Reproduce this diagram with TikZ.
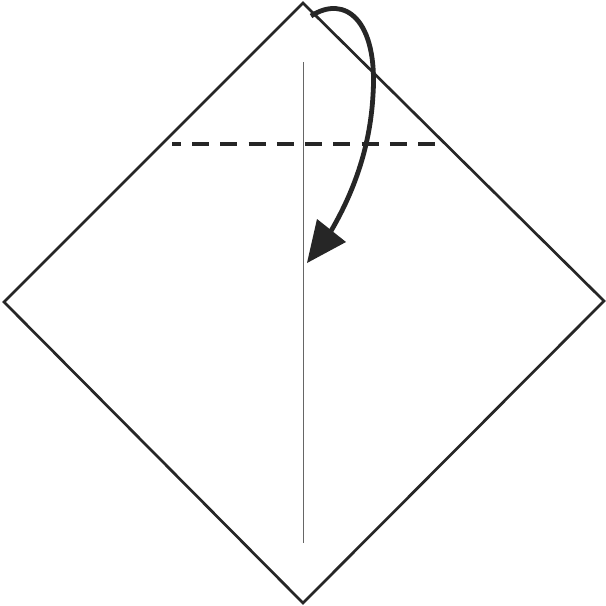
\documentclass[tikz,border=0pt]{standalone}
\begin{document}
\begin{tikzpicture}[x=1pt,y=-1pt,
  paper/.style={draw=black!85,line width=2.7pt,line join=miter,fill=white},
  crease/.style={draw=black!60,line width=0.9pt},
  valley/.style={draw=black!85,line width=3.2pt,dash pattern=on 17pt off 11.25pt,dash phase=8.25pt},
  foldarrow/.style={draw=black!85,line width=4.8pt},
  tip/.style={fill=black!85}]
\useasboundingbox (0,0) rectangle (606,606);
\coordinate (T) at (303,3);
\coordinate (L) at (4,302);
\coordinate (R) at (604,301);
\coordinate (B) at (303,603);
\draw[paper] (T) -- (R) -- (B) -- (L) -- cycle;
\coordinate (c1) at (303,62);
\coordinate (c2) at (303,543);
\draw[crease] (c1) -- (c2);
\coordinate (d1) at (172,144);
\coordinate (d2) at (436,144);
\draw[valley] (d1) -- (d2);
\coordinate (a0) at (311,16);
\coordinate (a1) at (373,95);
\coordinate (a2) at (331,231);
\draw[foldarrow] (a0) .. controls (345,-6) and (378,20) .. (a1) .. controls (370,150) and (352,195) .. (a2);
\coordinate (h0) at (307,263);
\coordinate (h1) at (317,219);
\coordinate (h2) at (346,242);
\fill[tip] (h0) -- (h1) -- (h2) -- cycle;
\end{tikzpicture}
\end{document}
